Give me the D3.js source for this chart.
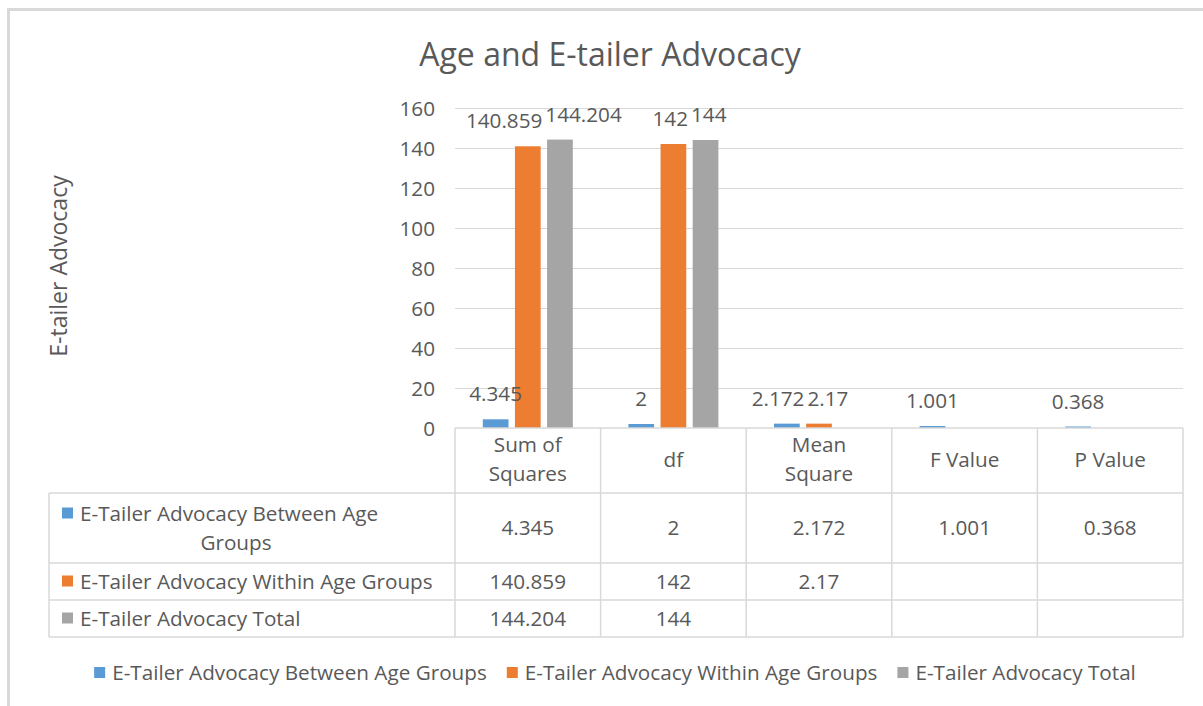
<!DOCTYPE html>
<html>
<head>
<meta charset="utf-8">
<script src="https://cdn.jsdelivr.net/npm/d3@7"></script>
<style>
  html, body { margin: 0; padding: 0; background: #fff; }
  svg { display: block; }
  text { font-family: "Open Sans", "Noto Sans", sans-serif; fill: #595959; }
</style>
</head>
<body>
<svg id="chart" width="1203" height="706"></svg>
<script>
// ---- data ----
const title = "Age and E-tailer Advocacy";
const yAxisTitle = "E-tailer Advocacy";
const categories = ["Sum of Squares", "df", "Mean Square", "F Value", "P Value"];
const categoryLines = [["Sum of", "Squares"], ["df"], ["Mean", "Square"], ["F Value"], ["P Value"]];
const seriesNames = [
  "E-Tailer Advocacy Between Age Groups",
  "E-Tailer Advocacy Within Age Groups",
  "E-Tailer Advocacy Total"
];
const rowLabelLines = [
  ["E-Tailer Advocacy Between Age", "Groups"],
  ["E-Tailer Advocacy Within Age Groups"],
  ["E-Tailer Advocacy Total"]
];
const betweenValues = [4.345, 2, 2.172, 1.001, 0.368];
const withinValues = [140.859, 142, 2.17, null, null];
const totalValues = [144.204, 144, null, null, null];
const yTicks = [0, 20, 40, 60, 80, 100, 120, 140, 160];
const colors = ["#5b9bd5", "#ed7d31", "#a5a5a5"];

const seriesValues = [betweenValues, withinValues, totalValues];

// ---- layout ----
const svg = d3.select("#chart");
const plotLeft = 455, plotRight = 1183, plotTop = 108, plotBottom = 428;
const tableLeft = 49;
const rowBounds = [428, 493, 563, 600, 637];
const fontSize = 20.7;

// outer border
svg.append("rect").attr("x", 8.5).attr("y", 9.5).attr("width", 1203).attr("height", 706)
  .attr("fill", "#fff").attr("stroke", "#d9d9d9").attr("stroke-width", 3);

// title
svg.append("text").attr("x", 610).attr("y", 66).attr("text-anchor", "middle")
  .style("font-size", "32px").text(title);

// scales
const x = d3.scaleBand().domain(categories).range([plotLeft, plotRight]).padding(0);
const groupPad = 27.8;
const xInner = d3.scaleBand().domain(d3.range(seriesNames.length))
  .range([groupPad, x.bandwidth() - groupPad]).paddingInner(0.2).paddingOuter(0);
const y = d3.scaleLinear().domain([0, 160]).range([plotBottom, plotTop]);

// gridlines
svg.append("g").selectAll("line").data(yTicks.filter(d => d > 0)).join("line")
  .attr("x1", plotLeft).attr("x2", plotRight)
  .attr("y1", d => y(d) + 0.5).attr("y2", d => y(d) + 0.5)
  .attr("stroke", "#d9d9d9").attr("stroke-width", 1);

// y axis
const yAxis = d3.axisLeft(y).tickValues(yTicks).tickSize(0).tickPadding(0);
const gy = svg.append("g").attr("transform", `translate(${plotLeft - 20},0)`).call(yAxis);
gy.select(".domain").remove();
gy.selectAll("text").style("font-size", fontSize + "px").style("font-family", "'Open Sans', sans-serif")
  .attr("fill", "#595959").attr("dy", "0.34em");

// y axis title
svg.append("text").attr("transform", `translate(67,266) rotate(-90)`)
  .attr("text-anchor", "middle").style("font-size", "23px").text(yAxisTitle);

// bars
const barData = [];
seriesValues.forEach((vals, s) => vals.forEach((v, i) => {
  if (v !== null) barData.push({ s, cat: categories[i], v });
}));
svg.append("g").selectAll("rect").data(barData).join("rect")
  .attr("x", d => x(d.cat) + xInner(d.s))
  .attr("width", xInner.bandwidth())
  .attr("y", d => Math.min(y(d.v), y(0) - 1.5))
  .attr("height", d => Math.max(y(0) - y(d.v), 1.5))
  .attr("fill", d => colors[d.s]);

// bar labels with simple overlap avoidance
const labels = svg.append("g").selectAll("text").data(barData).join("text")
  .attr("text-anchor", "middle")
  .style("font-size", fontSize + "px")
  .attr("y", d => y(d.v) - 18)
  .text(d => String(d.v));
labels.each(function (d) {
  d.w = this.getComputedTextLength();
  d.cx = x(d.cat) + xInner(d.s) + xInner.bandwidth() / 2;
});
categories.forEach(cat => {
  const group = barData.filter(d => d.cat === cat);
  for (let k = 0; k < group.length - 1; k++) {
    const a = group[k], b = group[k + 1];
    const overlapY = Math.abs(y(a.v) - y(b.v)) < fontSize;
    const gap = (b.cx - b.w / 2) - (a.cx + a.w / 2);
    if (overlapY && gap < 3) {
      const shift = (3 - gap) / 2;
      a.cx -= shift; b.cx += shift;
    }
  }
});
labels.attr("x", d => d.cx);

// data table lines
const tbl = svg.append("g").attr("stroke", "#d9d9d9").attr("stroke-width", 1.5);
tbl.append("line").attr("x1", plotLeft).attr("x2", plotRight).attr("y1", rowBounds[0]).attr("y2", rowBounds[0]);
rowBounds.slice(1).forEach(yy => {
  tbl.append("line").attr("x1", tableLeft).attr("x2", plotRight).attr("y1", yy).attr("y2", yy);
});
tbl.append("line").attr("x1", tableLeft).attr("x2", tableLeft).attr("y1", rowBounds[1]).attr("y2", rowBounds[4]);
categories.concat(["__end"]).forEach((c, i) => {
  const xx = i < categories.length ? x(c) : plotRight;
  tbl.append("line").attr("x1", xx).attr("x2", xx).attr("y1", rowBounds[0]).attr("y2", rowBounds[4]);
});

// header text
categories.forEach((c, i) => {
  const lines = categoryLines[i];
  const cx = x(c) + x.bandwidth() / 2;
  const cy = (rowBounds[0] + rowBounds[1]) / 2 - 1;
  const lh = 29;
  lines.forEach((ln, j) => {
    svg.append("text").attr("x", cx).attr("y", cy + (j - (lines.length - 1) / 2) * lh)
      .attr("dy", "0.35em").attr("text-anchor", "middle").style("font-size", fontSize + "px").text(ln);
  });
});

// rows
seriesNames.forEach((name, s) => {
  const top = rowBounds[s + 1], bot = rowBounds[s + 2];
  const cy = (top + bot) / 2;
  const lines = rowLabelLines[s];
  const lh = 29;
  lines.forEach((ln, j) => {
    const ly = cy + (j - (lines.length - 1) / 2) * lh;
    if (j === 0) {
      svg.append("rect").attr("x", 62).attr("y", ly - 6).attr("width", 11).attr("height", 11).attr("fill", colors[s]);
      svg.append("text").attr("x", 80).attr("y", ly).attr("dy", "0.35em").style("font-size", fontSize + "px").text(ln);
    } else {
      svg.append("text").attr("x", 236).attr("y", ly).attr("dy", "0.35em").attr("text-anchor", "middle")
        .style("font-size", fontSize + "px").text(ln);
    }
  });
  seriesValues[s].forEach((v, i) => {
    if (v === null) return;
    svg.append("text").attr("x", x(categories[i]) + x.bandwidth() / 2).attr("y", cy)
      .attr("dy", "0.35em").attr("text-anchor", "middle").style("font-size", fontSize + "px").text(String(v));
  });
});

// legend
const legend = svg.append("g");
let lx = 0;
const legendGap = 20;
seriesNames.forEach((name, s) => {
  const g = legend.append("g").attr("transform", `translate(${lx},0)`);
  g.append("rect").attr("x", 0).attr("y", -6).attr("width", 11).attr("height", 11).attr("fill", colors[s]);
  const t = g.append("text").attr("x", 18).attr("y", 0).attr("dy", "0.35em").style("font-size", fontSize + "px").text(name);
  lx += 18 + t.node().getComputedTextLength() + legendGap;
});
const legendW = lx - legendGap;
legend.attr("transform", `translate(${615 - legendW / 2},673)`);
</script>
</body>
</html>
